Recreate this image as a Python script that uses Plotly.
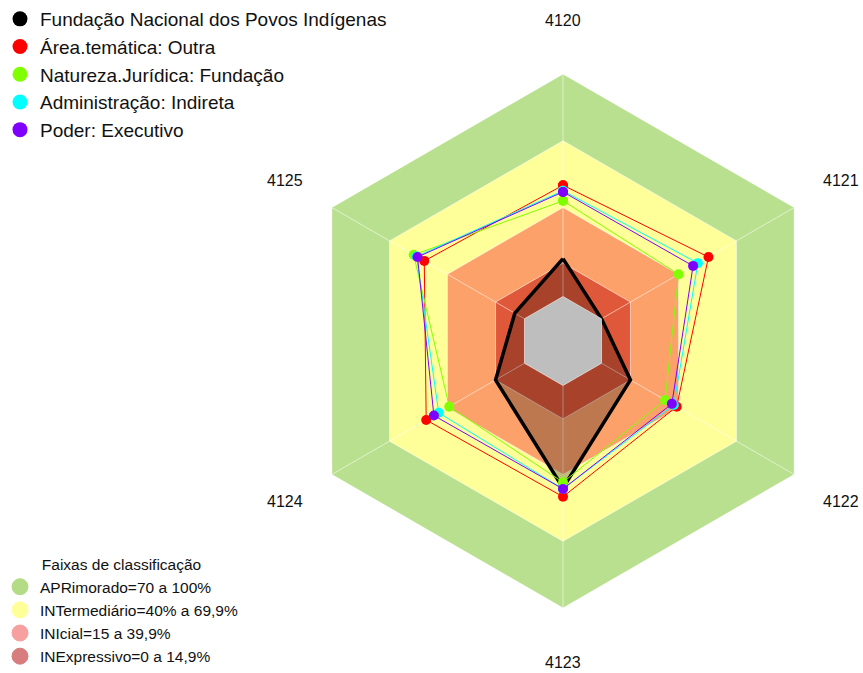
import math
import plotly.graph_objects as go

categories = ["4120", "4121", "4122", "4123", "4124", "4125"]

series_names = [
    "Fundação Nacional dos Povos Indígenas",
    "Área.temática: Outra",
    "Natureza.Jurídica: Fundação",
    "Administração: Indireta",
    "Poder: Executivo",
]
funai = [17, 0, 15, 46, 15, 5]
area_outra = [50, 55.5, 39, 50, 51, 52]
natureza_fundacao = [43, 40, 33, 43.5, 39, 57.5]
adm_indireta = [47.5, 50, 37.5, 46.5, 44.5, 56]
poder_executivo = [47, 47.5, 36.5, 46.5, 47, 55.5]
series_values = [funai, area_outra, natureza_fundacao, adm_indireta, poder_executivo]
series_colors = ["#000000", "#ff0000", "#80ff00", "#00ffff", "#8000ff"]

band_names = [
    "APRimorado=70 a 100%",
    "INTermediário=40% a 69,9%",
    "INIcial=15 a 39,9%",
    "INExpressivo=0 a 14,9%",
]
band_upper = [100, 70, 40, 15]
band_fill = ["#b9e08f", "#ffff99", "#fda16a", "#e0583a"]
band_legend_colors = ["#b4dc87", "#ffff99", "#f7a0a0", "#d77d7d"]
center_value = 0
r_min = -20

W, H = 863, 673
CX, CY, R = 563, 341, 267          # polar centre / radius in pixels
LABEL_R = 321                      # radius of category labels in pixels

def closed(vals):
    return list(vals) + [vals[0]]

theta_closed = closed(categories)

fig = go.Figure()

# classification bands
for up, col in zip(band_upper, band_fill):
    fig.add_trace(go.Scatterpolar(
        r=[up] * 7, theta=theta_closed, mode="lines", fill="toself",
        fillcolor=col, line=dict(color="rgba(255,255,255,0.55)", width=1),
        showlegend=False, hoverinfo="skip"))

# spokes
sr, st = [], []
for c in categories:
    sr += [center_value, band_upper[0], None]
    st += [c, c, None]
fig.add_trace(go.Scatterpolar(
    r=sr, theta=st, mode="lines",
    line=dict(color="rgba(255,255,255,0.55)", width=1),
    showlegend=False, hoverinfo="skip"))

# main series (black) with fill
fig.add_trace(go.Scatterpolar(
    r=closed(funai), theta=theta_closed, mode="lines+markers",
    fill="toself", fillcolor="rgba(0,0,0,0.25)",
    line=dict(color="#000000", width=3.5),
    marker=dict(color="#000000", size=10),
    name=series_names[0], showlegend=False))

# gray centre
fig.add_trace(go.Scatterpolar(
    r=[center_value] * 7, theta=theta_closed, mode="lines", fill="toself",
    fillcolor="#bebebe", line=dict(color="rgba(255,255,255,0.55)", width=1),
    showlegend=False, hoverinfo="skip"))

for name, vals, col in zip(series_names[1:], series_values[1:], series_colors[1:]):
    fig.add_trace(go.Scatterpolar(
        r=closed(vals), theta=theta_closed, mode="lines+markers",
        line=dict(color=col, width=1),
        marker=dict(color=col, size=10),
        name=name, showlegend=False))

# legend entries for series (marker only)
for name, col in zip(series_names, series_colors):
    fig.add_trace(go.Scatterpolar(
        r=[None], theta=[categories[0]], mode="markers",
        marker=dict(color=col, size=15),
        name=name, legend="legend"))

# legend entries for bands
for name, col in zip(band_names, band_legend_colors):
    fig.add_trace(go.Scatterpolar(
        r=[None], theta=[categories[0]], mode="markers",
        marker=dict(color=col, size=17, line=dict(color=col, width=1)),
        name=name, legend="legend2"))

# category labels around the hexagon
annotations = []
n = len(categories)
for i, c in enumerate(categories):
    ang = 2 * math.pi * i / n
    px = CX + LABEL_R * math.sin(ang)
    py = CY - LABEL_R * math.cos(ang)
    annotations.append(dict(
        x=px / W, y=1 - py / H, xref="paper", yref="paper",
        text=c, showarrow=False, xanchor="center", yanchor="middle",
        font=dict(size=16, color="#111111")))

fig.update_layout(
    width=W, height=H,
    margin=dict(l=0, r=0, t=0, b=0),
    paper_bgcolor="white",
    font=dict(family="Liberation Sans, Arial, sans-serif", color="#000000"),
    annotations=annotations,
    polar=dict(
        domain=dict(x=[(CX - R) / W, (CX + R) / W],
                    y=[1 - (CY + R) / H, 1 - (CY - R) / H]),
        gridshape="linear",
        bgcolor="rgba(0,0,0,0)",
        radialaxis=dict(range=[r_min, 100], visible=False),
        angularaxis=dict(
            type="category", categoryorder="array", categoryarray=categories,
            rotation=90, direction="clockwise",
            showgrid=False, showline=False, showticklabels=False, ticks="",
        ),
    ),
    legend=dict(
        x=0, y=1.0, xanchor="left", yanchor="top",
        font=dict(size=19, color="#111111"),
        bgcolor="rgba(0,0,0,0)", itemsizing="trace",
    ),
    legend2=dict(
        x=0.0, y=0.0, xanchor="left", yanchor="bottom",
        font=dict(size=15.5, color="#111111"),
        title=dict(text="Faixas de classificação", side="top center",
                   font=dict(size=15.5, color="#111111")),
        bgcolor="rgba(0,0,0,0)", itemsizing="trace",
    ),
)

fig.write_html("out.html",
               config={"displayModeBar": False},
               post_script="document.body.style.margin='0';document.body.style.overflow='hidden';")
